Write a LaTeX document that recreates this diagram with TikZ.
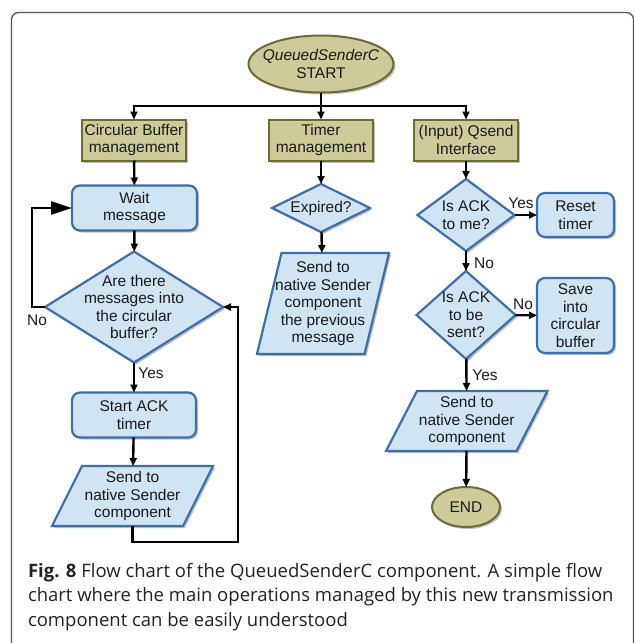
\documentclass[tikz,border=0pt]{standalone}
\usepackage{fontspec}
\setmainfont{Liberation Sans}
\newfontfamily\capfont{Open Sans}
\usetikzlibrary{shapes.geometric,arrows.meta,shadows,backgrounds}
\definecolor{olivefill}{HTML}{CDCB99}
\definecolor{olivedraw}{HTML}{6C6A36}
\definecolor{bluefill}{HTML}{D0E4F3}
\definecolor{bluedraw}{HTML}{3D6FAA}
\definecolor{framegray}{HTML}{555555}
\definecolor{txt}{HTML}{1A1A1A}
\definecolor{captxt}{HTML}{222222}
\begin{document}
\begin{tikzpicture}[x=1pt,y=-1pt,
  every node/.style={font=\fontsize{15.5}{17.5}\selectfont, text=txt, align=center, outer sep=0pt},
  shade/.style={drop shadow={shadow xshift=2pt,shadow yshift=-2pt,opacity=0.25,fill=black}},
  olivebox/.style={rectangle, fill=olivefill, draw=olivedraw, line width=2pt, minimum width=104pt, minimum height=41pt, inner sep=0pt, shade},
  oval/.style={ellipse, fill=olivefill, draw=olivedraw, line width=2pt, inner sep=-15pt, shade},
  proc/.style={rectangle, rounded corners=8pt, fill=bluefill, draw=bluedraw, line width=2.2pt, inner sep=0pt, shade},
  dec/.style={diamond, fill=bluefill, draw=bluedraw, line width=2.2pt, inner sep=-20pt, shade},
  io/.style={fill=bluefill, draw=bluedraw, line width=2.2pt, line join=miter, shade},
  iotext/.style={rectangle, inner sep=0pt},
  plain/.style={line width=2.4pt},
  conn/.style={line width=2.4pt, -{Triangle[length=8pt,width=7pt]}},
  bigconn/.style={line width=2.4pt, -{Triangle[length=21pt,width=13pt]}},
  lbl/.style={inner sep=0pt},
  capline/.style={anchor=base west, inner sep=0pt, text=captxt, align=left, font=\capfont\fontsize{18.5}{22}\selectfont}
]
\useasboundingbox (0,0) rectangle (634,643);
% frame
\draw[framegray, line width=1.3pt, rounded corners=7pt] (11.5,700) -- (11.5,12.5) -- (633.5,12.5) -- (633.5,700);

% start and headers
\node[oval, minimum width=145pt, minimum height=57pt] (start) at (321,64) {{\itshape QueuedSenderC}\\START};
\coordinate (j) at (321,106);
\node[olivebox] (b1) at (134,140) {Circular Buffer\\management};
\node[olivebox] (b2) at (321,140) {Timer\\management};
\node[olivebox] (b3) at (466,140) {(Input) Qsend\\Interface};

% left column
\node[proc, minimum width=125pt, minimum height=45pt] (wait) at (134.5,208) {Wait\\message};
\node[dec, minimum width=178pt, minimum height=111pt, aspect=1.6] (d1) at (134,307) {Are there\\messages into\\the circular\\buffer?};
\node[proc, minimum width=124pt, minimum height=45pt] (ack) at (134,415) {Start ACK\\timer};
\node[iotext, minimum width=131pt, minimum height=60pt] (p1) at (132.5,496) {Send to\\native Sender\\component};
\coordinate (loopc) at (238,542);
\coordinate (noc) at (32,307);

% middle column
\node[dec, minimum width=98pt, minimum height=48pt, aspect=2.04] (exp) at (321,208) {Expired?};
\node[iotext, minimum width=107.5pt, minimum height=101pt] (p2) at (323,303.5) {Send to\\native Sender\\component\\the previous\\message};

% right column
\node[dec, minimum width=97pt, minimum height=72pt, aspect=1.35] (a1) at (466,215) {Is ACK\\to me?};
\node[proc, minimum width=77pt, minimum height=44pt] (reset) at (575.5,215) {Reset\\timer};
\node[dec, minimum width=99pt, minimum height=88pt, aspect=1.125] (a2) at (466,315) {Is ACK\\to be\\sent?};
\node[proc, minimum width=77pt, minimum height=75pt] (save) at (575.5,315.5) {Save\\into\\circular\\buffer};
\node[iotext, minimum width=130.5pt, minimum height=60pt] (p3) at (466.75,421) {Send to\\native Sender\\component};
\node[oval, minimum width=68pt, minimum height=40pt] (end) at (466,507) {END};

% parallelogram bodies
\begin{scope}[on background layer]
\path[io] ([xshift=15pt]p1.north west) -- ([xshift=15pt]p1.north east) -- ([xshift=-15pt]p1.south east) -- ([xshift=-15pt]p1.south west) -- cycle;
\path[io] ([xshift=12.25pt]p2.north west) -- ([xshift=12.25pt]p2.north east) -- ([xshift=-12.25pt]p2.south east) -- ([xshift=-12.25pt]p2.south west) -- cycle;
\path[io] ([xshift=15.5pt]p3.north west) -- ([xshift=15.5pt]p3.north east) -- ([xshift=-15.5pt]p3.south east) -- ([xshift=-15.5pt]p3.south west) -- cycle;
\end{scope}

% connectors
\draw[plain] (start.south) -- (j);
\draw[conn] (j) -| (b1);
\draw[conn] (j) -- (b2);
\draw[conn] (j) -| (b3);

\draw[conn] (b1) -- (wait);
\draw[conn] (wait) -- (d1);
\draw[conn] (d1) -- (ack);
\draw[conn] (ack) -- (p1);
\draw[conn] (p1.south) |- (loopc) |- (d1.east);
\draw[bigconn] (d1.west) -- (noc) |- (wait.west);

\draw[conn] (b2) -- (exp);
\draw[conn] (exp) -- (p2);

\draw[conn] (b3) -- (a1);
\draw[conn] (a1) -- (reset);
\draw[conn] (a1) -- (a2);
\draw[conn] (a2) -- (save);
\draw[conn] (a2) -- (p3);
\draw[conn] (p3) -- (end);

% labels
\node[lbl] (lno1) at (37,320) {No};
\node[lbl] (lyes1) at (151,373) {Yes};
\node[lbl] (lyes2) at (521,203) {Yes};
\node[lbl] (lno2) at (484,263) {No};
\node[lbl] (lno3) at (523,304) {No};
\node[lbl] (lyes3) at (485,375) {Yes};

% caption
\node[capline] (c1) at (28,577) {\textbf{Fig. 8} Flow chart of the QueuedSenderC component. A simple flow};
\node[capline] (c2) at (28,601.7) {chart where the main operations managed by this new transmission};
\node[capline] (c3) at (28,626.4) {component can be easily understood};
\end{tikzpicture}
\end{document}
